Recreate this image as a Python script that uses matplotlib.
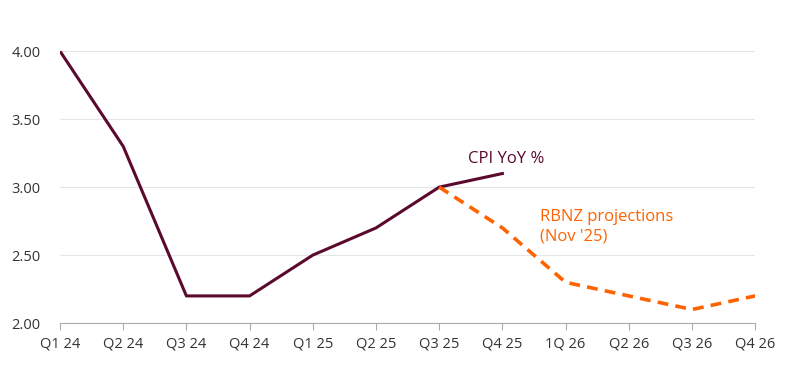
import matplotlib
matplotlib.use('Agg')
import matplotlib.pyplot as plt

plt.rcParams['font.family'] = ['Open Sans', 'DejaVu Sans']

# 数据
quarters = ['Q1 24', 'Q2 24', 'Q3 24', 'Q4 24', 'Q1 25', 'Q2 25',
            'Q3 25', 'Q4 25', '1Q 26', 'Q2 26', 'Q3 26', 'Q4 26']
cpi = [4.0, 3.3, 2.2, 2.2, 2.5, 2.7, 3.0, 3.1]
rbnz = [3.0, 2.7, 2.3, 2.2, 2.1, 2.2]
rbnz_start = 6  # Q3 25

maroon = '#5b0a2e'
orange = '#ff6200'

fig = plt.figure(figsize=(8, 3.68), dpi=100)
ax = fig.add_axes([0.075, 0.122, 0.869, 0.739])

x_cpi = list(range(len(cpi)))
x_rbnz = list(range(rbnz_start, rbnz_start + len(rbnz)))

ax.plot(x_cpi, cpi, color=maroon, lw=2.2, zorder=3)
ax.plot(x_rbnz, rbnz, color=orange, lw=2.6, ls=(0, (3, 2)), zorder=3)

ax.text(6.46, 3.21, 'CPI YoY %', color=maroon, fontsize=12, va='center', ha='left')
ax.text(7.6, 2.71, "RBNZ projections\n(Nov '25)", color=orange, fontsize=12,
        va='center', ha='left', linespacing=1.25)

ax.set_xlim(0, len(quarters) - 1)
ax.set_ylim(2.0, 4.0)
ax.set_xticks(range(len(quarters)))
ax.set_xticklabels(quarters)
ax.set_yticks([2.0, 2.5, 3.0, 3.5, 4.0])
ax.set_yticklabels([f'{v:.2f}' for v in [2.0, 2.5, 3.0, 3.5, 4.0]])

ax.grid(axis='y', color='#e6e6e6', lw=0.8)
ax.set_axisbelow(True)
for s in ['top', 'right', 'left']:
    ax.spines[s].set_visible(False)
ax.spines['bottom'].set_color('#aaaaaa')
ax.tick_params(axis='x', colors='#aaaaaa', length=5, labelcolor='#333333', labelsize=10.5, pad=5)
ax.tick_params(axis='y', length=0, labelcolor='#333333', labelsize=10.5, pad=14)
ax.spines['bottom'].set_zorder(4)
ax.margins(0)

fig.savefig('out.png', dpi=100)
